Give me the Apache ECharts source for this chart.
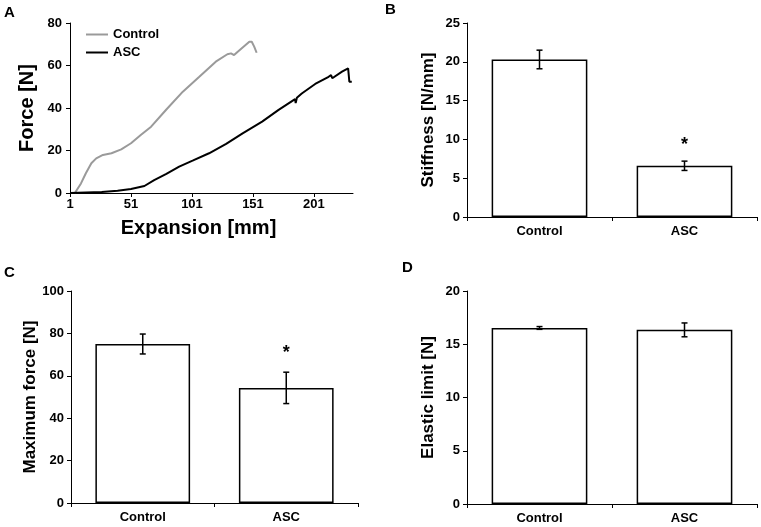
<!DOCTYPE html>
<html>
<head>
<meta charset="utf-8">
<script src="https://cdn.jsdelivr.net/npm/echarts@6/dist/echarts.min.js"></script>
<style>
  html, body { margin: 0; padding: 0; background: #fff; }
  #main { width: 761px; height: 527px; }
</style>
</head>
<body>
<div id="main"></div>
<script>
// panel A: force / expansion curves, [expansion mm, force N]
var controlCurve = [[5, 0], [10, 4.5], [14, 9.3], [18.5, 14], [22.5, 16.3], [28, 17.9], [35, 18.7],
    [43, 20.5], [51, 23.4], [59, 27.3], [67.5, 31.2], [80, 39.3], [93.5, 47.7], [107, 54.7],
    [120.5, 61.8], [130, 65.3], [133, 65.7], [135.5, 64.9], [138.5, 66.5], [148, 71.2],
    [150, 71.2], [152, 68.9], [154, 66]];
var ascCurve = [[1, 0], [27, 0.5], [40, 1.1], [51, 1.9], [62, 3.3], [70, 6.1], [80, 9],
    [90.5, 12.4], [101.5, 15.2], [115, 18.7], [129, 23.1], [142.5, 28.1], [158.5, 33.6],
    [172, 39.1], [185.5, 44.2], [186, 42.3], [187, 44.8], [191, 46.8], [202, 51.3],
    [213, 54.7], [215, 55.5], [216, 54], [224, 57.1], [229, 58.7], [230, 52.4], [232, 52.4]];

// panels B-D: means and error bars
var categories = ['Control', 'ASC'];
var stiffMean = [20.3, 6.6];
var stiffErr = [1.2, 0.6];
var stiffStar = [null, 9.8];
var maxMean = [75.0, 54.3];
var maxErr = [4.7, 7.4];
var maxStar = [null, 72.6];
var elasticMean = [16.53, 16.35];
var elasticErr = [0.13, 0.65];
var elasticStar = [null, null];

var font = '"Liberation Sans", Arial, sans-serif';

function errorItem(params, api) {
    var hi = api.coord([api.value(0), api.value(1) + api.value(2)]);
    var lo = api.coord([api.value(0), api.value(1) - api.value(2)]);
    var st = { stroke: '#000', lineWidth: 1.5 };
    return {
        type: 'group',
        children: [
            { type: 'line', shape: { x1: hi[0], y1: hi[1], x2: lo[0], y2: lo[1] }, style: st },
            { type: 'line', shape: { x1: hi[0] - 3, y1: hi[1], x2: hi[0] + 3, y2: hi[1] }, style: st },
            { type: 'line', shape: { x1: lo[0] - 3, y1: lo[1], x2: lo[0] + 3, y2: lo[1] }, style: st }
        ]
    };
}

function starItem(params, api) {
    var p = api.coord([api.value(0), api.value(1)]);
    return {
        type: 'text',
        style: {
            text: '*', x: p[0], y: p[1] + 4, align: 'center', verticalAlign: 'middle',
            font: 'bold 18px ' + font, fill: '#000'
        }
    };
}

function pairs(mean, extra) {
    var out = [];
    for (var i = 0; i < mean.length; i++) {
        if (extra == null) {
            out.push([i, mean[i]]);
        } else if (extra[i] != null) {
            out.push([i, mean[i], extra[i]]);
        }
    }
    return out;
}

function starPairs(star) {
    var out = [];
    star.forEach(function(v, i) {
        if (v != null) out.push([i, v]);
    });
    return out;
}

var axisLine = { show: true, lineStyle: { color: '#000', width: 1 } };
var axisTick = { show: true, length: 4, lineStyle: { color: '#000', width: 1 } };
var tickLabel = { color: '#000', fontFamily: font, fontWeight: 'bold', fontSize: 13 };

function catAxis(idx) {
    return {
        type: 'category', gridIndex: idx, data: categories,
        axisLine: axisLine, axisTick: axisTick,
        axisLabel: Object.assign({ margin: 8 }, tickLabel),
        splitLine: { show: false }
    };
}

function valAxis(idx, max, interval, name, gap) {
    return {
        type: 'value', gridIndex: idx, min: 0, max: max, interval: interval,
        name: name, nameLocation: 'middle', nameGap: gap,
        nameTextStyle: { color: '#000', fontFamily: font, fontWeight: 'bold', fontSize: 17 },
        axisLine: axisLine, axisTick: axisTick,
        axisLabel: Object.assign({ margin: 7 }, tickLabel),
        splitLine: { show: false }
    };
}

function barSet(idx, mean, err, star) {
    return [
        {
            type: 'bar', xAxisIndex: idx, yAxisIndex: idx, data: mean, barWidth: '66%',
            itemStyle: { color: '#fff', borderColor: '#000', borderWidth: 1.5 },
            silent: true
        },
        {
            type: 'custom', xAxisIndex: idx, yAxisIndex: idx, renderItem: errorItem,
            data: pairs(mean, err), z: 5, silent: true
        },
        {
            type: 'custom', xAxisIndex: idx, yAxisIndex: idx, renderItem: starItem,
            data: starPairs(star), z: 5, silent: true
        }
    ];
}

var letterStyle = { color: '#000', fontFamily: font, fontWeight: 'bold', fontSize: 15 };

var option = {
    animation: false,
    backgroundColor: '#fff',
    title: [
        { text: 'A', left: 4, top: 5, padding: 0, textStyle: letterStyle },
        { text: 'B', left: 385, top: 2, padding: 0, textStyle: letterStyle },
        { text: 'C', left: 4, top: 265, padding: 0, textStyle: letterStyle },
        { text: 'D', left: 402, top: 260, padding: 0, textStyle: letterStyle }
    ],
    legend: {
        orient: 'vertical', left: 81, top: 23, itemGap: 5,
        itemWidth: 22, itemHeight: 2, icon: 'rect',
        textStyle: { color: '#000', fontFamily: font, fontWeight: 'bold', fontSize: 13 },
        data: ['Control', 'ASC']
    },
    grid: [
        { left: 70, top: 23, width: 283, height: 170, outerBoundsMode: 'none' },
        { left: 467, top: 23, width: 290, height: 194, outerBoundsMode: 'none' },
        { left: 71, top: 291, width: 287, height: 212, outerBoundsMode: 'none' },
        { left: 467, top: 291, width: 290, height: 213, outerBoundsMode: 'none' }
    ],
    xAxis: [
        {
            type: 'value', gridIndex: 0, min: 1, max: 233, interval: 50,
            name: 'Expansion [mm]', nameLocation: 'middle', nameGap: 25,
            nameTextStyle: { color: '#000', fontFamily: font, fontWeight: 'bold', fontSize: 20, padding: [0, 26, 0, 0] },
            axisLine: axisLine, axisTick: axisTick,
            axisLabel: Object.assign({ margin: 5, showMaxLabel: false }, tickLabel),
            splitLine: { show: false }
        },
        catAxis(1), catAxis(2), catAxis(3)
    ],
    yAxis: [
        {
            type: 'value', gridIndex: 0, min: 0, max: 80, interval: 20,
            name: 'Force [N]', nameLocation: 'middle', nameGap: 33,
            nameTextStyle: { color: '#000', fontFamily: font, fontWeight: 'bold', fontSize: 20 },
            axisLine: axisLine, axisTick: axisTick,
            axisLabel: Object.assign({ margin: 8 }, tickLabel),
            splitLine: { show: false }
        },
        valAxis(1, 25, 5, 'Stiffness [N/mm]', 30),
        valAxis(2, 100, 20, 'Maximum force [N]', 31),
        valAxis(3, 20, 5, 'Elastic limit [N]', 30)
    ],
    series: [
        {
            name: 'Control', type: 'line', xAxisIndex: 0, yAxisIndex: 0, data: controlCurve,
            showSymbol: false, color: '#9a9a9a', lineStyle: { color: '#9a9a9a', width: 2 }, z: 3
        },
        {
            name: 'ASC', type: 'line', xAxisIndex: 0, yAxisIndex: 0, data: ascCurve,
            showSymbol: false, color: '#000', lineStyle: { color: '#000', width: 2 }, z: 3
        }
    ]
        .concat(barSet(1, stiffMean, stiffErr, stiffStar))
        .concat(barSet(2, maxMean, maxErr, maxStar))
        .concat(barSet(3, elasticMean, elasticErr, elasticStar))
};

var myChart = echarts.init(document.getElementById('main'));
myChart.setOption(option);
</script>
</body>
</html>
